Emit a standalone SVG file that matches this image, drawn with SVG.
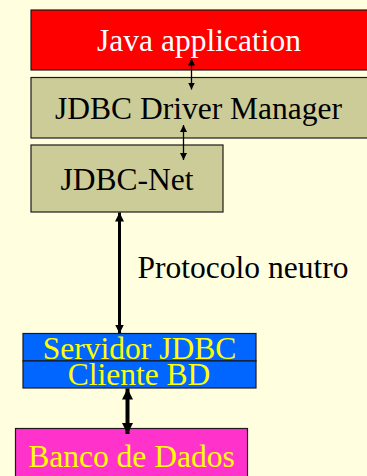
<svg xmlns="http://www.w3.org/2000/svg" width="367" height="476" viewBox="0 0 367 476">
  <style>
    .box { stroke: #1a1a1a; stroke-width: 1.2; }
    .shadow { fill: none; stroke: #999977; stroke-width: 1; }
    .lbl { font-family: "Liberation Serif", "Times New Roman", serif; font-size: 31.5px; text-anchor: middle; }
    .conn { stroke: #000; fill: none; }
  </style>
  <defs>
    <marker id="headS" viewBox="0 0 10 10" refX="10" refY="5" markerWidth="7" markerHeight="7" markerUnits="userSpaceOnUse" orient="auto-start-reverse">
      <path d="M0,0 L10,5 L0,10 z" fill="#000"/>
    </marker>
    <marker id="headM" viewBox="0 0 10 10" refX="10" refY="5" markerWidth="9" markerHeight="9" markerUnits="userSpaceOnUse" orient="auto-start-reverse">
      <path d="M0,0 L10,5 L0,10 z" fill="#000"/>
    </marker>
    <marker id="headL" viewBox="0 0 10 10" refX="10" refY="5" markerWidth="11" markerHeight="11" markerUnits="userSpaceOnUse" orient="auto-start-reverse">
      <path d="M0,0 L10,5 L0,10 z" fill="#000"/>
    </marker>
  </defs>

  <rect x="0" y="0" width="367" height="476" fill="#FFFFE0"/>

  <g id="java-app">
    <rect class="box" x="31" y="10" width="340" height="60" fill="#FF0000"/>
    <text class="lbl" x="199" y="51" fill="#FFFFFF">Java application</text>
  </g>

  <g id="driver-manager">
    <rect class="box" x="31" y="77.5" width="340" height="60.5" fill="#CCCC99"/>
    <text class="lbl" x="198.5" y="119" fill="#000000">JDBC Driver Manager</text>
  </g>

  <g id="jdbc-net">
    <rect class="box" x="31" y="145" width="192" height="67" fill="#CCCC99"/>
    <text class="lbl" x="127" y="190" fill="#000000">JDBC-Net</text>
  </g>

  <g id="servidor">
    <rect class="box" x="23" y="333.5" width="233" height="27.5" fill="#0066FF"/>
    <text class="lbl" x="139.5" y="359" fill="#FFFF00">Servidor JDBC</text>
  </g>

  <g id="cliente">
    <rect class="box" x="23" y="361" width="233" height="27" fill="#0066FF"/>
    <text class="lbl" x="139" y="385" fill="#FFFF00">Cliente BD</text>
  </g>

  <g id="banco">
    <rect class="box" x="15.5" y="428.5" width="232" height="60" fill="#FF33CC"/>
    <text class="lbl" x="131.5" y="467" fill="#FFFF00">Banco de Dados</text>
  </g>

  <g id="connectors">
    <line class="conn" x1="191.5" y1="58.5" x2="191.5" y2="89.5" stroke-width="1.3" marker-start="url(#headS)" marker-end="url(#headS)"/>
    <line class="conn" x1="183.5" y1="125" x2="183.5" y2="160" stroke-width="1.3" marker-start="url(#headS)" marker-end="url(#headS)"/>
    <line class="conn" x1="119.5" y1="212.5" x2="119.5" y2="333.5" stroke-width="3" marker-start="url(#headM)" marker-end="url(#headM)"/>
    <line class="conn" x1="127.5" y1="388.5" x2="127.5" y2="434" stroke-width="4" marker-start="url(#headL)" marker-end="url(#headL)"/>
    <text x="243" y="278" font-family="Liberation Serif, Times New Roman, serif" font-size="31.5" text-anchor="middle" fill="#000">Protocolo neutro</text>
  </g>
</svg>
